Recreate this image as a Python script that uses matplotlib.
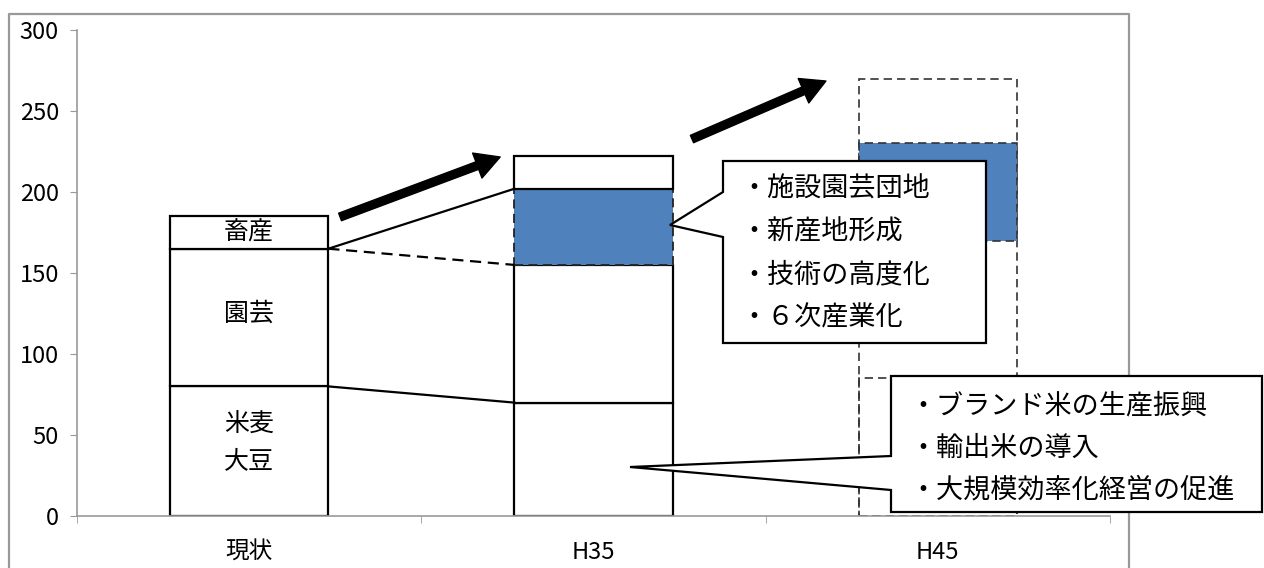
import matplotlib
matplotlib.use('Agg')
import matplotlib.pyplot as plt
from matplotlib.patches import Polygon, FancyArrowPatch
from matplotlib.lines import Line2D

plt.rcParams['font.family'] = ['Noto Sans CJK JP', 'DejaVu Sans']

# データ
categories = ['現状', 'H35', 'H45']
rice_top = [80, 70, 85]          # 米麦大豆
horti_top = [165, 155, 170]      # 園芸（既存）
new_horti_top = [165, 202, 230]  # 園芸（新規、青）
total = [185, 222, 270]          # 畜産まで

box1_lines = ['・施設園芸団地', '・新産地形成', '・技術の高度化', '・６次産業化']
box2_lines = ['・ブランド米の生産振興', '・輸出米の導入', '・大規模効率化経営の促進']

W, H = 1264, 568
fig = plt.figure(figsize=(W / 100, H / 100), dpi=100)
ax = fig.add_axes([77 / W, 1 - 516 / H, (1110 - 77) / W, (516 - 30) / H])

blue = '#4F81BD'
dash = (0, (5, 3))
bw = 0.46
x = range(len(categories))

# 現状
ax.bar(0, rice_top[0], width=bw, color='white', edgecolor='black', lw=1.6)
ax.bar(0, horti_top[0] - rice_top[0], bottom=rice_top[0], width=bw, color='white', edgecolor='black', lw=1.6)
ax.bar(0, total[0] - horti_top[0], bottom=horti_top[0], width=bw, color='white', edgecolor='black', lw=1.6)

# H35
ax.bar(1, rice_top[1], width=bw, color='white', edgecolor='black', lw=1.6)
ax.bar(1, horti_top[1] - rice_top[1], bottom=rice_top[1], width=bw, color='white', edgecolor='black', lw=1.6)
ax.bar(1, new_horti_top[1] - horti_top[1], bottom=horti_top[1], width=bw, color=blue,
       edgecolor='#222222', lw=1.3, linestyle=dash)
ax.bar(1, total[1] - new_horti_top[1], bottom=new_horti_top[1], width=bw, color='white', edgecolor='black', lw=1.6)

# H45 (点線)
ax.bar(2, total[2], width=bw, color='none', edgecolor='#333333', lw=1.2, linestyle=dash)
ax.bar(2, rice_top[2], width=bw, color='none', edgecolor='#333333', lw=1.2, linestyle=dash)
ax.bar(2, new_horti_top[2] - horti_top[2], bottom=horti_top[2], width=bw, color=blue,
       edgecolor='#333333', lw=1.2, linestyle=dash)

# つなぎ線
xa, xb = 0 + bw / 2, 1 - bw / 2
ax.plot([xa, xb], [rice_top[0], rice_top[1]], color='black', lw=1.6)
ax.plot([xa, xb], [horti_top[0], new_horti_top[1]], color='black', lw=1.6)
ax.plot([xa, xb], [horti_top[0], horti_top[1]], color='black', lw=1.6, linestyle=dash)

# 棒の中の文字
ax.text(0, (horti_top[0] + total[0]) / 2, '畜産', ha='center', va='center', fontsize=18)
ax.text(0, 125, '園芸', ha='center', va='center', fontsize=18)
ax.text(0, 45, '米麦\n大豆', ha='center', va='center', fontsize=18, linespacing=1.5)

# 矢印
for a, b in [((0.264, 184.6), (0.729, 221.6)), ((1.286, 232.7), (1.675, 268.5))]:
    ax.add_patch(FancyArrowPatch(a, b, arrowstyle='simple,head_width=1.2,head_length=1.1,tail_width=0.36',
                                 mutation_scale=16, color='black', shrinkA=0, shrinkB=0, zorder=5))

# 軸
ax.set_xlim(-0.5, 2.5)
ax.set_ylim(0, 300)
ax.set_yticks(range(0, 301, 50))
ax.set_xticks(list(x))
ax.set_xticklabels(categories)
ax.set_xticks([-0.5, 0.5, 1.5, 2.5], minor=True)
for s in ['top', 'right']:
    ax.spines[s].set_visible(False)
for s in ['left', 'bottom']:
    ax.spines[s].set_color('#999999')
    ax.spines[s].set_linewidth(1.2)
ax.tick_params(axis='y', direction='out', length=5, color='#999999', pad=8, labelsize=17)
ax.tick_params(axis='x', which='major', length=0, pad=18, labelsize=17)
ax.tick_params(axis='x', which='minor', direction='out', length=5, color='#999999')


def fp(px, py):
    return (px / W, 1 - py / H)


# 吹き出し
call1 = [(723, 161), (986, 161), (986, 343), (723, 343), (723, 237), (670, 225), (723, 192)]
call2 = [(891, 376), (1262, 376), (1262, 512), (891, 512), (891, 490), (630, 467), (891, 456)]
for pts in (call1, call2):
    fig.patches.append(Polygon([fp(*p) for p in pts], closed=True, facecolor='white',
                               edgecolor='black', lw=1.6, transform=fig.transFigure, zorder=10))

for i, t in enumerate(box1_lines):
    fig.text(*fp(740, 189 + i * 43), t, ha='left', va='center', fontsize=19.5, zorder=11)
for i, t in enumerate(box2_lines):
    fig.text(*fp(909, 406 + i * 42), t, ha='left', va='center', fontsize=19.5, zorder=11)

# 外枠
frame_x = [9 / W, 9 / W, 1129 / W, 1129 / W]
frame_y = [0, 1 - 14 / H, 1 - 14 / H, 0]
fig.lines.append(Line2D(frame_x, frame_y, color='#999999', lw=1.6, transform=fig.transFigure))

fig.savefig('out.png', dpi=100)
